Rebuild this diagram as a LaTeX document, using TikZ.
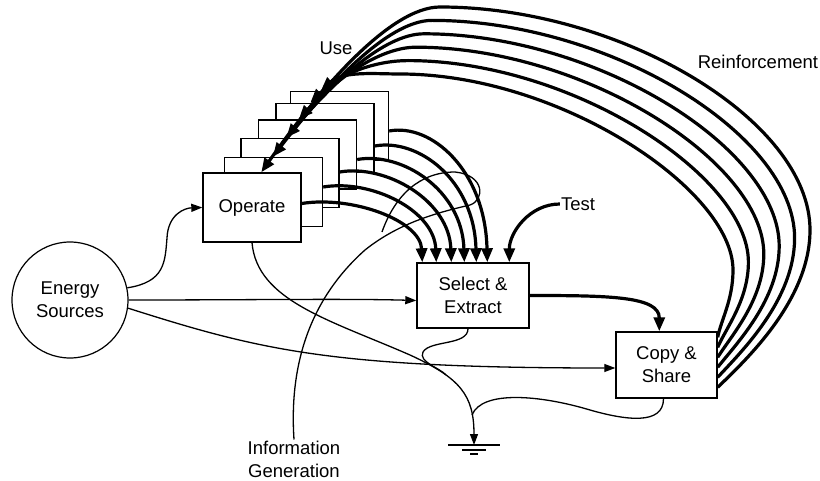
\documentclass[tikz,border=0pt]{standalone}
\usepackage{fontspec}
\setmainfont{Liberation Sans}
\usetikzlibrary{arrows.meta,calc}

\begin{document}
\begin{tikzpicture}[x=1pt,y=-1pt,
  every node/.style={font=\fontsize{18.5}{23}\selectfont},
  box/.style={draw,line width=1.4pt,fill=white,minimum width=98pt,minimum height=69pt,inner sep=0pt,align=center},
  flow/.style={line width=1.3pt,-{Triangle[length=11pt,width=8pt]}},
  heavy/.style={line width=3.2pt,-{Triangle[length=14pt,width=11pt]}},
  lbl/.style={inner sep=1pt,align=center}]
\useasboundingbox (0,0) rectangle (820,481);
% stacked operate boxes, back to front
\foreach \n/\x/\y in {op5/339.5/126,op4/325/138,op3/307.5/154.5,op2/290/173,op1/273.5/192}
  \node[box] (\n) at (\x,\y) {};
\node[box] (operate) at (252,207.5) {Operate};
\node[box,minimum width=112pt,minimum height=65pt] (select) at (473,295.5) {Select \&\\Extract};
\node[box,minimum width=101pt,minimum height=66pt] (copy) at (666.5,365) {Copy \&\\Share};
\node[circle,draw,line width=1.2pt,minimum size=116pt,align=center] (energy) at (70,300) {Energy\\Sources};
\node[lbl] (use) at (336,48) {Use};
\node[lbl] (reinf) at (758,62) {Reinforcement};
\node[lbl] (test) at (578,204) {Test};
\node[lbl] (infogen) at (294,459) {Information\\Generation};
\coordinate (ground) at (474,445);

% energy flows
\draw[flow] (energy.12) .. controls (165,282) and (165,262) .. (167,238) .. controls (168,214) and (185,208) .. (operate.west);
\draw[flow] (energy.east) .. controls +(120,0) and +(-70,-2) .. ($(select.west)+(0,5)$);
\draw[flow] (energy.-8) .. controls (260,350) and (330,368) .. ($(copy.west)+(0,3)$);

% dissipation to ground
\draw[flow] (operate.south) .. controls +(5,58) and (330,320) .. (410,355) .. controls (460,378) and (474,395) .. (ground);
\draw[line width=1.3pt] ($(select.south)+(-5,0)$) .. controls +(0,17) and (430,340) .. (423,352) .. controls (418,362) and (440,368) .. (446,375);
\draw[line width=1.3pt] ($(copy.south)+(-3,0)$) .. controls +(0,27) and (625,420) .. (590,410) .. controls (540,395) and (482,390) .. (472,415);
\draw[line width=1.4pt] ($(ground)+(-26,0)$) -- +(52,0);
\draw[line width=1.4pt] ($(ground)+(-12,5)$) -- +(24,0);
\draw[line width=1.4pt] ($(ground)+(-4,9)$) -- +(8,0);

% information generation loop
\draw[line width=1.3pt] (infogen.north) .. controls (288,350) and (320,290) .. (365,250) .. controls (400,222) and (440,212) .. (470,205)
  .. controls (485,200) and (485,175) .. (455,172) .. controls (420,172) and (395,195) .. (382,232);

% products to selection
\foreach \b/\sy/\ex/\ca/\cb in {operate/-4/6/50/42,op1/-5/20/48/52,op2/-1/35/46/62,op3/5/48/45/72,op4/8/60/44/82,op5/5/71/42/92}
  \draw[heavy] ($(\b.east)+(0,\sy)$) .. controls +(\ca,-8) and +(-2,-\cb) .. ($(select.north west)+(\ex,0)$);
\draw[heavy] (test.west) .. controls +(-30,0) and +(0,-30) .. ($(select.north west)+(93,0)$);
\draw[heavy] (select.east) .. controls +(80,0) and +(0,-35) .. ($(copy.north west)+(44,0)$);

% reinforcement arcs
\foreach \b/\tx [count=\k from 0] in {op5/31,op4/35,op3/41,op2/46,op1/49,operate/59}{
  \pgfmathsetmacro\rx{733+15.4*\k}
  \pgfmathsetmacro\ry{270-8*\k}
  \pgfmathsetmacro\jx{400+8*\k}
  \pgfmathsetmacro\jy{74-13.4*\k}
  \pgfmathsetmacro\ax{721+5*\k}
  \pgfmathsetmacro\ay{320+8*\k}
  \pgfmathsetmacro\by{190-14*\k}
  \pgfmathsetmacro\cx{560+12*\k}
  \pgfmathsetmacro\qx{\jx-25-5*\k}
  \pgfmathsetmacro\tl{30+14*\k}
  \pgfmathsetmacro\ang{42+2.6*\k}
  \draw[heavy] ($(copy.north east)+(0,6+10*\k)$) .. controls (\ax,\ay) and (\rx,300) .. (\rx,\ry)
    .. controls (\rx,\by) and (\cx,\jy) .. (\jx,\jy)
    .. controls (\qx,\jy) and +({\tl*cos(\ang)},{-\tl*sin(\ang)}) .. ($(\b.north west)+(\tx,0)$);
}
\end{tikzpicture}
\end{document}
